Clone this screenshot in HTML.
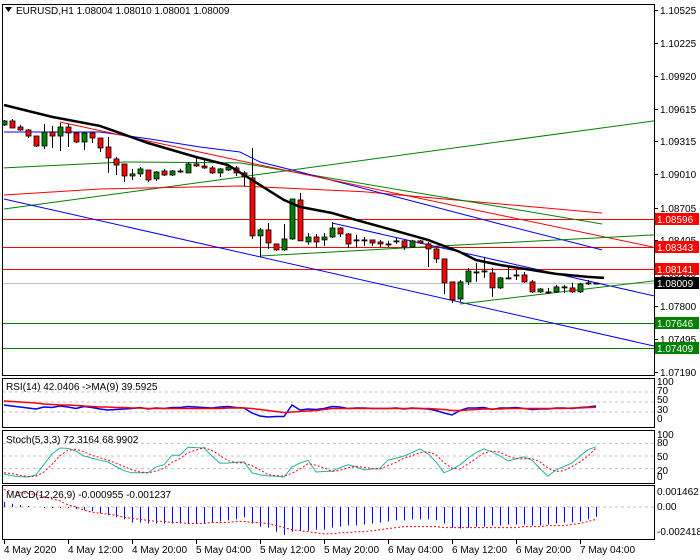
<!DOCTYPE html>
<html><head><meta charset="utf-8">
<style>
body{margin:0;background:#fff;}
svg{display:block;font-family:"Liberation Sans",sans-serif;}
</style></head>
<body>
<svg id="chart" width="700" height="560" viewBox="0 0 700 560" xmlns="http://www.w3.org/2000/svg">
<rect x="0" y="0" width="700" height="560" fill="#fff"/>
<g id="main"></g>
<g id="axis"></g>
<g id="rsi"></g>
<g id="stoch"></g>
<g id="macd"></g>
<g id="time"></g>
</svg>
<script>
const opens=[1.09466,1.09503,1.09447,1.09420,1.09364,1.09272,1.09401,1.09364,1.09447,1.09392,1.09309,1.09392,1.09346,1.09263,1.09153,1.09107,1.08996,1.09015,1.09051,1.08969,1.09042,1.09005,1.09033,1.09024,1.09107,1.09088,1.09070,1.09024,1.09051,1.09070,1.09024,1.08978,1.08444,1.08499,1.08370,1.08315,1.08416,1.08775,1.08388,1.08434,1.08407,1.08434,1.08517,1.08462,1.08407,1.08407,1.08407,1.08388,1.08370,1.08398,1.08398,1.08342,1.08398,1.08370,1.08324,1.08232,1.08020,1.07863,1.08020,1.08112,1.08121,1.08103,1.07965,1.08057,1.08084,1.08084,1.08020,1.07928,1.07928,1.07928,1.07974,1.07965,1.07928,1.08011,1.08004];
const highs=[1.09512,1.09521,1.09466,1.09429,1.09364,1.09475,1.09457,1.09484,1.09475,1.09392,1.09401,1.09401,1.09346,1.09355,1.09171,1.09107,1.09061,1.09079,1.09051,1.09042,1.09061,1.09051,1.09061,1.09125,1.09171,1.09144,1.09088,1.09070,1.09088,1.09088,1.09042,1.09254,1.08517,1.08563,1.08370,1.08554,1.08784,1.08840,1.08471,1.08462,1.08471,1.08572,1.08526,1.08471,1.08453,1.08434,1.08407,1.08407,1.08398,1.08425,1.08407,1.08407,1.08407,1.08388,1.08333,1.08232,1.08020,1.08038,1.08149,1.08195,1.08250,1.08149,1.08066,1.08167,1.08130,1.08112,1.08038,1.07965,1.07965,1.07992,1.07992,1.08011,1.08011,1.08038,1.08010];
const lows=[1.09457,1.09438,1.09411,1.09346,1.09263,1.09245,1.09254,1.09226,1.09263,1.09300,1.09236,1.09300,1.09217,1.09024,1.09005,1.08941,1.08959,1.08987,1.08941,1.08950,1.08996,1.08996,1.09024,1.09024,1.09079,1.09061,1.09015,1.08987,1.09042,1.08996,1.08904,1.08416,1.08250,1.08324,1.08306,1.08306,1.08407,1.08398,1.08361,1.08333,1.08352,1.08425,1.08434,1.08333,1.08342,1.08352,1.08352,1.08342,1.08342,1.08370,1.08315,1.08333,1.08370,1.08158,1.08195,1.07909,1.07826,1.07836,1.07992,1.08020,1.08057,1.07882,1.07955,1.08050,1.08038,1.08011,1.07918,1.07918,1.07909,1.07918,1.07918,1.07918,1.07918,1.07992,1.08001];
const closes=[1.09503,1.09438,1.09420,1.09364,1.09272,1.09401,1.09364,1.09447,1.09392,1.09309,1.09392,1.09346,1.09254,1.09162,1.09097,1.08996,1.09015,1.09061,1.08959,1.09033,1.09005,1.09042,1.09042,1.09107,1.09088,1.09070,1.09024,1.09061,1.09079,1.09024,1.08987,1.08444,1.08499,1.08379,1.08315,1.08416,1.08784,1.08398,1.08434,1.08388,1.08434,1.08517,1.08462,1.08370,1.08398,1.08398,1.08379,1.08370,1.08370,1.08398,1.08342,1.08398,1.08379,1.08324,1.08232,1.08011,1.07854,1.08020,1.08121,1.08112,1.08121,1.07965,1.08057,1.08050,1.08084,1.08020,1.07928,1.07955,1.07928,1.07974,1.07974,1.07928,1.08001,1.08011,1.08009];
// moving average (black), sampled at bar indices
const maBars=[0,6,12,18,24,28,31,35,37,41,44,49,53,57,59,62,66,69,73,75];
const maVals=[1.09650,1.09540,1.09457,1.09300,1.09171,1.09097,1.08959,1.08775,1.08711,1.08655,1.08591,1.08490,1.08407,1.08296,1.08222,1.08176,1.08130,1.08094,1.08066,1.08057];
// drawn trend / MA lines: bar indices and prices
const redABars=[7,30.75,81.1], redAVals=[1.09493,1.09116,1.08342];
const redEBars=[0,12,29.5,45,74.75], redEVals=[1.08821,1.08876,1.08904,1.08850,1.08655];
const greenCBars=[0,15.1,29.5,74.75], greenCVals=[1.09070,1.09125,1.09116,1.08554];
const greenDBars=[0,81.25], greenDVals=[1.08692,1.09503];
const blueMBars=[0,12,18.25,24.5,29.5,32,37,49.5,62,74.75], blueMVals=[1.09401,1.09401,1.09337,1.09263,1.09217,1.09125,1.09033,1.08794,1.08554,1.08315];
const greenGBars=[32,54.5,81.25], greenGVals=[1.08259,1.08351,1.08453];
const blueHBars=[41,81.25], blueHVals=[1.08563,1.07891];
const blueIBars=[0,81.25], blueIVals=[1.08784,1.07430];
const greenJBars=[57,81.25], greenJVals=[1.07817,1.08029];
const levelPrices=[1.08596,1.08343,1.08141,1.08009,1.07646,1.07409];
const levelColors=["#ff0000","#ff0000","#ff0000","#c0c0c0","#008000","#008000"];
const levelBoxColors=["#ff0000","#ff0000","#ff0000","#000000","#008000","#008000"];
const priceTicks=[1.10525,1.10225,1.09920,1.09615,1.09315,1.09010,1.08705,1.08405,1.08100,1.07800,1.07495,1.07190];
const rsiVals=[44,42,40,38,36,40,39,42,40,37,41,39,36,34,35,36,37,39,36,38,37,39,39,41,40,39,38,40,41,39,38,28,22,20,21,21,44,34,36,35,37,41,40,37,38,38,37,37,37,38,36,38,37,36,33,28,24,33,38,38,39,35,38,38,39,37,35,36,36,38,38,37,39,40,42];
const rsiMaVals=[52,51,50,49,48,46,45,44,44,43,42,41,40,40,39,39,38,38,37,37,37,37,37,37,37,37,37,37,38,38,38,37,35,33,31,29,30,31,32,33,35,37,37,37,37,37,37,37,37,37,37,37,37,37,36,35,33,33,34,35,36,36,36,37,37,37,37,37,37,37,37,38,38,39,39.6];
const stochMain=[7,3,1,0,5,30,55,69,68,62,50,45,40,36,25,15,10,10,10,24,29,52,52,71,70,69,50,33,33,35,36,10,5,3,2,0,24,33,40,12,13,14,22,29,24,17,19,21,40,45,50,58,67,55,36,10,18,29,45,58,67,60,50,38,43,48,40,20,2,17,25,33,50,65,72];
const stochSig=[10,8,4,1,2,12,30,51,64,66,60,52,46,40,33,25,17,12,10,14,21,35,44,58,64,70,63,51,39,34,34,27,17,6,3,2,9,19,32,28,22,13,16,22,25,23,20,19,27,35,45,51,58,60,53,34,21,19,31,44,57,62,59,49,44,43,44,36,21,13,15,25,36,50,69];
const macdHist=[0.0005,0.0003,0.0002,0.0001,0.0,-0.0001,-0.0001,-0.0001,-0.0001,-0.0002,-0.0003,-0.0004,-0.0006,-0.0008,-0.0010,-0.0012,-0.0015,-0.0015,-0.0016,-0.0016,-0.0016,-0.0016,-0.0016,-0.0016,-0.0016,-0.0016,-0.0015,-0.0014,-0.0013,-0.0012,-0.0010,-0.0016,-0.0019,-0.0020,-0.0024,-0.0027,-0.0024,-0.0023,-0.0023,-0.0022,-0.0022,-0.0020,-0.0019,-0.0018,-0.0018,-0.0017,-0.0016,-0.0015,-0.0014,-0.0013,-0.0013,-0.0012,-0.0012,-0.0012,-0.0013,-0.0016,-0.0020,-0.0021,-0.0020,-0.0019,-0.0019,-0.0018,-0.0018,-0.0017,-0.0017,-0.0017,-0.0018,-0.0018,-0.0017,-0.0016,-0.0015,-0.0015,-0.0014,-0.0012,-0.00095];
const macdSig=[0.0017,0.0015,0.0014,0.0013,0.0012,0.0010,0.0008,0.0006,0.0002,0.0,-0.0003,-0.0005,-0.0006,-0.0007,-0.0008,-0.0010,-0.0011,-0.0012,-0.0013,-0.0014,-0.0014,-0.0015,-0.0015,-0.0016,-0.0016,-0.0016,-0.0015,-0.0015,-0.0015,-0.0014,-0.0014,-0.0015,-0.0015,-0.0016,-0.0018,-0.0020,-0.0022,-0.0023,-0.0024,-0.0025,-0.0026,-0.0026,-0.0025,-0.0025,-0.0024,-0.0024,-0.0023,-0.0022,-0.0021,-0.0020,-0.0019,-0.0019,-0.0019,-0.0019,-0.0019,-0.0020,-0.0020,-0.0020,-0.0020,-0.0020,-0.0020,-0.0020,-0.0020,-0.0020,-0.0020,-0.0019,-0.0019,-0.0019,-0.0018,-0.0018,-0.0018,-0.0017,-0.0016,-0.0014,-0.0012];
const timeLabels=["4 May 2020","4 May 12:00","4 May 20:00","5 May 04:00","5 May 12:00","5 May 20:00","6 May 04:00","6 May 12:00","6 May 20:00","7 May 04:00"];
const timeBars=[0,8,16,24,32,40,48,56,64,72];

const NS="http://www.w3.org/2000/svg";
function mk(tag,parent,attrs){const e=document.createElementNS(NS,tag);for(const k in attrs)e.setAttribute(k,attrs[k]);parent.appendChild(e);return e;}
const X=i=>4+8*i;
const PY=p=>10+(1.10525-p)*10855;
const RY=v=>427-0.5*v;
const SY=v=>477-0.42*v;
const MY=v=>507-v*10309;
const main=document.getElementById('main'),axis=document.getElementById('axis');

// clip
const defs=mk('defs',document.getElementById('chart'),{});
const cp=mk('clipPath',defs,{id:'mc'});mk('rect',cp,{x:3,y:5,width:651,height:370});

// frames
const frames=[[2,4,652,371,'price-frame'],[2,378,652,49,'rsi-frame'],[2,430,652,53,'stoch-frame'],[2,485,652,54,'macd-frame']];
frames.forEach(f=>{const r=mk('rect',document.getElementById('chart'),{x:f[0]+.5,y:f[1]+.5,width:f[2],height:f[3],fill:'none',stroke:'#000','stroke-width':1});

});

const mg=mk('g',main,{'clip-path':'url(#mc)'});
// levels
levelPrices.forEach((p,i)=>{const l=mk('line',mg,{x1:3,x2:654,y1:Math.round(PY(p))+.5,y2:Math.round(PY(p))+.5,stroke:levelColors[i],'stroke-width':1});

});
function poly(bars,vals,color,w,name,yf){const pts=bars.map((b,i)=>X(b)+','+(yf||PY)(vals[i]).toFixed(1)).join(' ');
const e=mk('polyline',mg,{points:pts,fill:'none',stroke:color,'stroke-width':w});

return e;}
poly(greenDBars,greenDVals,'#008000',1,'green-trendline-rising');
poly(blueIBars,blueIVals,'#0000ff',1,'blue-channel-lower');
poly(redEBars,redEVals,'#ff0000',1,'red-ma-slow');
poly(greenCBars,greenCVals,'#008000',1,'green-ma');
poly(blueMBars,blueMVals,'#0000ff',1,'blue-ma');
poly(redABars,redAVals,'#ff0000',1,'red-ma-fast');
poly(greenGBars,greenGVals,'#008000',1,'green-triangle-upper');
poly(blueHBars,blueHVals,'#0000ff',1,'blue-channel-upper');
poly(greenJBars,greenJVals,'#008000',1,'green-triangle-lower');
// candles
for(let i=0;i<opens.length;i++){const x=X(i);const o=opens[i],c=closes[i];
const g=mk('g',mg,{});


mk('line',g,{x1:x+.5,x2:x+.5,y1:PY(highs[i]),y2:PY(lows[i]),stroke:'#000','stroke-width':1});
const top=Math.min(PY(o),PY(c)),h=Math.max(1,Math.abs(PY(o)-PY(c)));
mk('rect',g,{x:x-2,y:top,width:5,height:h,fill:c>=o?'#008000':'#ff0000',stroke:'#000','stroke-width':0.8});}
poly(maBars,maVals,'#000',2.5,'black-ma');

// header
const hd=mk('text',main,{x:16,y:14,'font-size':10,fill:'#000'});hd.textContent='EURUSD,H1  1.08004 1.08010 1.08001 1.08009';


const tri=mk('path',main,{d:'M5 7 L12 7 L8.5 12 Z',fill:'#000'});



// price axis
priceTicks.forEach(p=>{const y=Math.round(PY(p));mk('line',axis,{x1:654,x2:658,y1:y+.5,y2:y+.5,stroke:'#000'});
const t=mk('text',axis,{x:660,y:y+4,'font-size':10,fill:'#000'});t.textContent=p.toFixed(5);

});
levelPrices.forEach((p,i)=>{const y=Math.round(PY(p));
const b=mk('rect',axis,{x:655,y:y-6,width:44,height:12,fill:levelBoxColors[i]});


const t=mk('text',axis,{x:657,y:y+4,'font-size':10,fill:'#fff'});t.textContent=p.toFixed(5);

});

// RSI
const rg=document.getElementById('rsi');
[70,50,30].forEach(v=>mk('line',rg,{x1:3,x2:654,y1:RY(v),y2:RY(v),stroke:'#c0c0c0','stroke-dasharray':'3,3'}));
function ipoly(parent,vals,yf,color,w,name,dash){const pts=vals.map((v,i)=>X(i)+','+yf(v).toFixed(1)).join(' ');
const e=mk('polyline',parent,{points:pts,fill:'none',stroke:color,'stroke-width':w});if(dash)e.setAttribute('stroke-dasharray',dash);

}
ipoly(rg,rsiVals,RY,'#0000ff',1.5,'rsi-line');
ipoly(rg,rsiMaVals,RY,'#ff0000',1.5,'rsi-ma-line');
const rl=mk('text',rg,{x:6,y:390,'font-size':10,fill:'#000'});rl.textContent='RSI(14) 42.0406  ->MA(9) 39.5925';


[[100,385],[70,394],[50,403],[30,413],[0,422]].forEach(a=>{const t=mk('text',rg,{x:657,y:a[1],'font-size':10,fill:'#000'});t.textContent=a[0];

});

// Stoch
const sg=document.getElementById('stoch');
[80,50,20].forEach(v=>mk('line',sg,{x1:3,x2:654,y1:SY(v),y2:SY(v),stroke:'#c0c0c0','stroke-dasharray':'3,3'}));
ipoly(sg,stochMain,SY,'#20b2aa',1,'stoch-main-line');
ipoly(sg,stochSig,SY,'#ff0000',1,'stoch-signal-line','2,2');
const sl=mk('text',sg,{x:6,y:443,'font-size':10,fill:'#000'});sl.textContent='Stoch(5,3,3) 72.3164 68.9902';


[[100,438],[80,446],[50,460],[20,474],[0,480]].forEach(a=>{const t=mk('text',sg,{x:657,y:a[1],'font-size':10,fill:'#000'});t.textContent=a[0];

});

// MACD
const mcg=document.getElementById('macd');
mk('line',mcg,{x1:3,x2:654,y1:MY(0),y2:MY(0),stroke:'#c0c0c0','stroke-dasharray':'3,3'});
macdHist.forEach((v,i)=>{const b=mk('line',mcg,{x1:X(i)+.5,x2:X(i)+.5,y1:MY(0),y2:MY(v),stroke:'#0000ff','stroke-width':1});

});
ipoly(mcg,macdSig,MY,'#ff0000',1,'macd-signal-line','2,2');
const ml=mk('text',mcg,{x:6,y:498,'font-size':10,fill:'#000'});ml.textContent='MACD(12,26,9) -0.000955 -0.001237';


[['0.001462',495],['0.00',510],['-0.002418',535]].forEach(a=>{const t=mk('text',mcg,{x:657,y:a[1],'font-size':10,fill:'#000'});t.textContent=a[0];

});

// time axis
const tg=document.getElementById('time');
timeLabels.forEach((s,i)=>{const x=X(timeBars[i]);mk('line',tg,{x1:x+.5,x2:x+.5,y1:539,y2:544,stroke:'#000'});
const t=mk('text',tg,{x:x,y:553,'font-size':10,fill:'#000'});t.textContent=s;

});
</script>
</body></html>
